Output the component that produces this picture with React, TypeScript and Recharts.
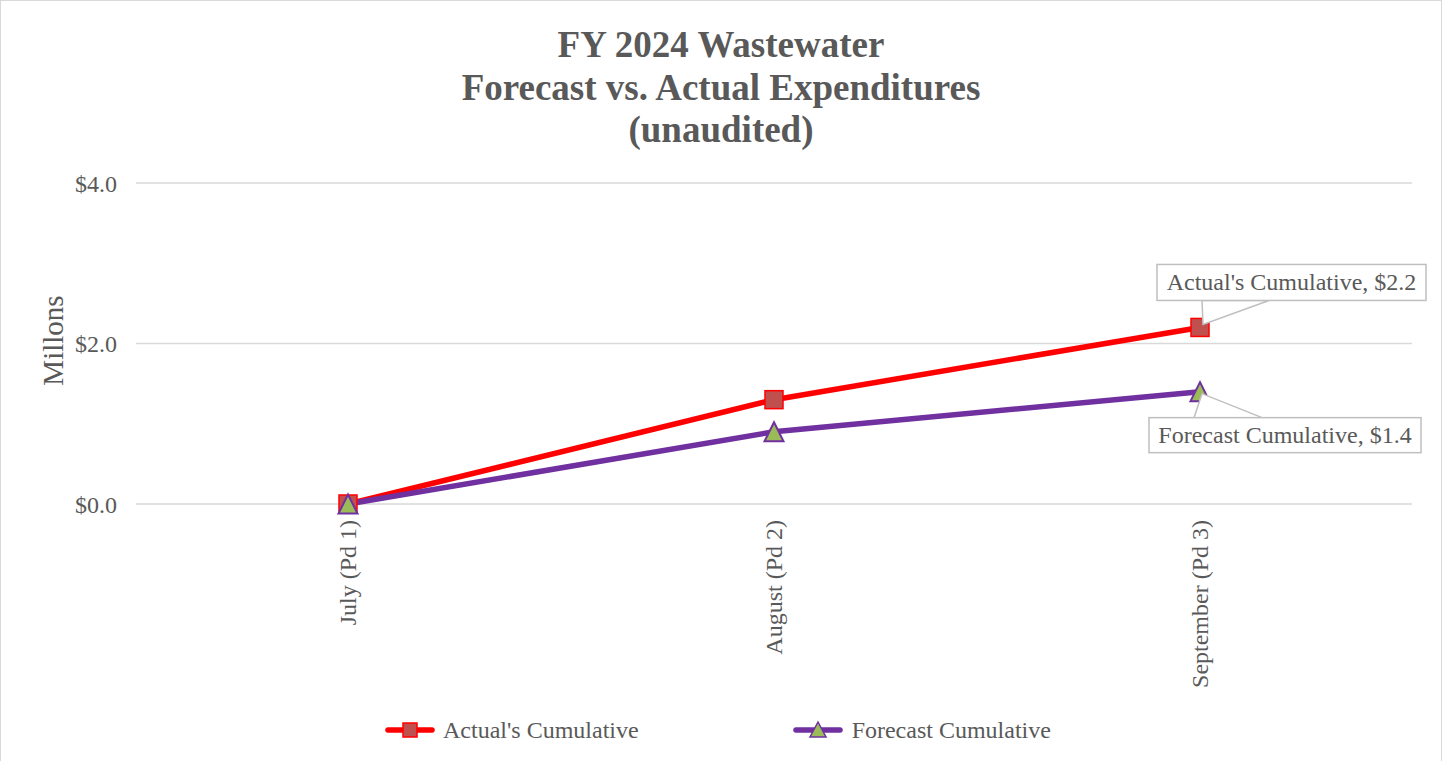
import React from 'react';
import { LineChart, Line, XAxis, YAxis, CartesianGrid, Legend, LabelList } from 'recharts';

const periods = ['July (Pd 1)', 'August (Pd 2)', 'September (Pd 3)'];
const actualCumulative = [0, 1.3, 2.2];
const forecastCumulative = [0, 0.9, 1.4];
const yTicks = [0, 2, 4];
const titleLines = ['FY 2024 Wastewater', 'Forecast vs. Actual Expenditures', '(unaudited)'];
const seriesNames = ["Actual's Cumulative", 'Forecast Cumulative'];
const yAxisTitle = 'Millons';

const data = periods.map((p, i) => ({
  period: p,
  actual: actualCumulative[i],
  forecast: forecastCumulative[i],
}));

const FONT = '"Liberation Serif", "Times New Roman", serif';
const TEXT = '#595959';
const GRID = '#D9D9D9';
const BOX = '#BFBFBF';
const RED = '#FF0000';
const RED_FILL = '#C0504D';
const PURPLE = '#7030A0';
const GREEN = '#9BBB59';

const W = 1440;
const H = 768;

const SquareDot = (props: any) => {
  const { cx, cy, index } = props;
  if (cx == null || cy == null) return null;
  return (
    <rect
      key={`sq-${index}`}
      x={cx - 9}
      y={cy - 9}
      width={18}
      height={18}
      fill={RED_FILL}
      stroke={RED}
      strokeWidth={1.5}
    />
  );
};

const TriangleDot = (props: any) => {
  const { cx, cy, index } = props;
  if (cx == null || cy == null) return null;
  return (
    <path
      key={`tri-${index}`}
      d={`M${cx},${cy - 9.5} L${cx + 9.5},${cy + 9.5} L${cx - 9.5},${cy + 9.5} Z`}
      fill={GREEN}
      stroke={PURPLE}
      strokeWidth={2}
      strokeLinejoin="miter"
    />
  );
};

const getXY = (props: any) => {
  const x = props.x ?? props.viewBox?.x;
  const y = props.y ?? props.viewBox?.y;
  return { x, y };
};

const ActualLabel = (props: any) => {
  const { index, value } = props;
  if (index !== periods.length - 1) return null;
  const { x, y } = getXY(props);
  const bx = x - 43;
  const by = y - 63;
  const bw = 269;
  const bh = 36;
  return (
    <g>
      <path
        d={`M${x + 2},${by + bh} L${x + 3},${y - 3} L${x + 69},${by + bh} Z`}
        fill="#FFFFFF"
        stroke={BOX}
        strokeWidth={1.5}
      />
      <rect x={bx} y={by} width={bw} height={bh} fill="#FFFFFF" stroke={BOX} strokeWidth={1.5} />
      <text
        x={bx + bw / 2}
        y={by + bh / 2}
        textAnchor="middle"
        dominantBaseline="central"
        fontFamily={FONT}
        fontSize={24}
        fill={TEXT}
      >
        {`${seriesNames[0]}, $${Number(value).toFixed(1)}`}
      </text>
    </g>
  );
};

const ForecastLabel = (props: any) => {
  const { index, value } = props;
  if (index !== periods.length - 1) return null;
  const { x, y } = getXY(props);
  const bx = x - 51;
  const by = y + 26;
  const bw = 272;
  const bh = 35;
  return (
    <g>
      <path
        d={`M${x - 6},${by} L${x + 2},${y + 2} L${x + 62},${by} Z`}
        fill="#FFFFFF"
        stroke={BOX}
        strokeWidth={1.5}
      />
      <rect x={bx} y={by} width={bw} height={bh} fill="#FFFFFF" stroke={BOX} strokeWidth={1.5} />
      <text
        x={bx + bw / 2}
        y={by + bh / 2}
        textAnchor="middle"
        dominantBaseline="central"
        fontFamily={FONT}
        fontSize={24}
        fill={TEXT}
      >
        {`${seriesNames[1]}, $${Number(value).toFixed(1)}`}
      </text>
    </g>
  );
};

const XTick = (props: any) => {
  const { x, y, payload } = props;
  return (
    <text
      x={x}
      y={y}
      dy="0.35em"
      transform={`rotate(-90, ${x}, ${y})`}
      textAnchor="end"
      fontFamily={FONT}
      fontSize={24}
      fill={TEXT}
    >
      {payload.value}
    </text>
  );
};

const YTitle = (props: any) => {
  const vb = props.viewBox || {};
  const cx = (vb.x ?? 0) + 52;
  const cy = (vb.y ?? 0) + (vb.height ?? 0) / 2 - 3;
  return (
    <text
      x={cx}
      y={cy}
      transform={`rotate(-90, ${cx}, ${cy})`}
      textAnchor="middle"
      dominantBaseline="central"
      fontFamily={FONT}
      fontSize={29}
      fill={TEXT}
    >
      {yAxisTitle}
    </text>
  );
};

const LegendContent = () => (
  <div
    style={{
      display: 'flex',
      alignItems: 'center',
      height: 40,
      paddingLeft: 384,
      fontFamily: FONT,
      fontSize: 24,
      color: TEXT,
      whiteSpace: 'nowrap',
    }}
  >
    <svg width={50} height={20} style={{ display: 'block' }}>
      <line x1={3} y1={10} x2={47} y2={10} stroke={RED} strokeWidth={5.5} strokeLinecap="round" />
      <rect x={18} y={3} width={14} height={14} fill={RED_FILL} stroke={RED} strokeWidth={1.5} />
    </svg>
    <span style={{ marginLeft: 8 }}>{seriesNames[0]}</span>
    <svg width={50} height={20} style={{ display: 'block', marginLeft: 154 }}>
      <line x1={3} y1={10} x2={47} y2={10} stroke={PURPLE} strokeWidth={5.5} strokeLinecap="round" />
      <path d="M25,2 L33,17 L17,17 Z" fill={GREEN} stroke={PURPLE} strokeWidth={1.5} />
    </svg>
    <span style={{ marginLeft: 9 }}>{seriesNames[1]}</span>
  </div>
);

export default function App() {
  return (
    <>
      <style>{`html,body{margin:0;padding:0;background:#fff;}`}</style>
      <div
        style={{
          position: 'absolute',
          left: 0,
          top: 0,
          width: W,
          height: H,
          border: `1px solid ${GRID}`,
          background: '#FFFFFF',
        }}
      >
        <div
          style={{
            position: 'absolute',
            left: 0,
            top: 23,
            width: W,
            textAlign: 'center',
            fontFamily: FONT,
            fontWeight: 'bold',
            fontSize: 37,
            lineHeight: '42.5px',
            color: TEXT,
            zIndex: 2,
            pointerEvents: 'none',
          }}
        >
          {titleLines.map((t) => (
            <div key={t}>{t}</div>
          ))}
        </div>
        <LineChart width={W} height={H} data={data} margin={{ top: 182, right: 29, bottom: 19, left: 0 }}>
          <CartesianGrid vertical={false} stroke={GRID} strokeWidth={1.5} />
          <XAxis
            dataKey="period"
            axisLine={false}
            tickLine={false}
            tickMargin={10}
            height={206}
            interval={0}
            padding={{ left: 212, right: 212 }}
            tick={<XTick />}
          />
          <YAxis
            domain={[0, 4]}
            ticks={yTicks}
            width={135}
            axisLine={false}
            tickLine={false}
            tickMargin={13}
            tickFormatter={(v: number) => `$${v.toFixed(1)}`}
            tick={{ fill: TEXT, fontSize: 24, fontFamily: FONT }}
            label={<YTitle />}
          />
          <Legend verticalAlign="bottom" height={40} content={<LegendContent />} />
          <Line
            type="linear"
            dataKey="actual"
            name={seriesNames[0]}
            stroke={RED}
            strokeWidth={5.5}
            dot={SquareDot}
            activeDot={false}
            isAnimationActive={false}
          >
            <LabelList dataKey="actual" content={<ActualLabel />} />
          </Line>
          <Line
            type="linear"
            dataKey="forecast"
            name={seriesNames[1]}
            stroke={PURPLE}
            strokeWidth={5.5}
            dot={TriangleDot}
            activeDot={false}
            isAnimationActive={false}
          >
            <LabelList dataKey="forecast" content={<ForecastLabel />} />
          </Line>
        </LineChart>
      </div>
    </>
  );
}
